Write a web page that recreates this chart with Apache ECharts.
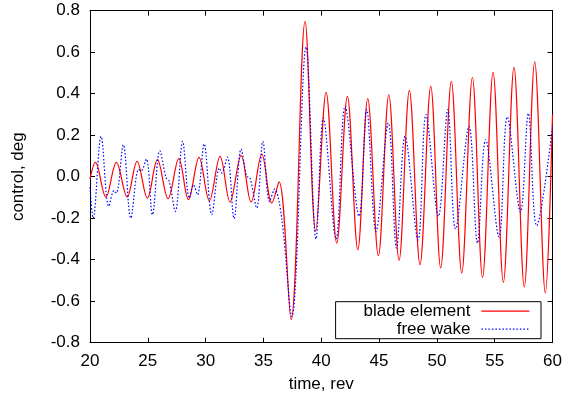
<!DOCTYPE html>
<html>
<head>
<meta charset="utf-8">
<script src="https://cdn.jsdelivr.net/npm/echarts@6/dist/echarts.min.js"></script>
<style>
html,body{margin:0;padding:0;background:#fff;}
#chart{width:569px;height:402px;}
</style>
</head>
<body>
<div id="chart"></div>
<script>
// ---- data ----
const seriesNames = ['blade element', 'free wake'];

// blade element (red): extrema of the response, time in rev, control in deg
const redTime = [20.0, 20.47, 21.37, 22.28, 23.21, 24.07, 24.96, 25.83, 26.75, 27.68,
  28.51, 29.43, 30.32, 31.25, 32.11, 33.07, 33.93, 34.86, 35.72, 36.35,
  37.39, 38.60, 39.52, 40.42, 41.34, 42.26, 43.16, 44.02, 44.94, 45.84,
  46.73, 47.62, 48.54, 49.47, 50.33, 51.25, 52.15, 53.07, 53.95, 54.86,
  55.75, 56.67, 57.56, 58.46, 59.38, 60.0];
const redValue = [-0.01, 0.069, -0.098, 0.069, -0.098, 0.074, -0.103, 0.082, -0.106, 0.087,
  -0.111, 0.093, -0.116, 0.098, -0.122, 0.103, -0.122, 0.109, -0.127, -0.025,
  -0.689, 0.749, -0.263, 0.406, -0.32, 0.387, -0.352, 0.376, -0.381, 0.395,
  -0.403, 0.416, -0.424, 0.435, -0.44, 0.459, -0.464, 0.478, -0.485, 0.503,
  -0.509, 0.527, -0.531, 0.554, -0.56, 0.30];

// free wake (blue, dotted)
const blueTime = [20.0, 20.27, 20.96, 21.63, 22.08, 22.28, 22.88, 23.53, 24.20, 24.42,
  24.87, 25.40, 26.04, 26.58, 26.84, 27.38, 28.01, 28.59, 28.94, 29.29,
  29.87, 30.53, 31.19, 31.40, 31.88, 32.46, 33.07, 33.56, 33.84, 34.42,
  34.95, 35.53, 35.96, 36.58, 37.45, 38.69, 39.55, 40.18, 41.28, 42.06,
  43.27, 43.93, 44.74, 45.80, 46.51, 47.25, 48.37, 49.06, 50.13, 50.94,
  51.61, 52.78, 53.51, 54.22, 55.37, 56.09, 57.23, 57.91, 58.63, 60.0];
const blueValue = [-0.05, -0.20, 0.194, -0.143, -0.067, -0.079, 0.154, -0.20, 0.035, 0.028,
  0.085, -0.183, 0.125, -0.005, -0.02, -0.167, 0.17, -0.103, -0.039, -0.087,
  0.158, -0.183, 0.042, 0.018, 0.095, -0.202, 0.133, 0.002, -0.006, -0.151,
  0.17, -0.12, -0.06, -0.20, -0.675, 0.625, -0.30, 0.282, -0.30, 0.339,
  -0.19, 0.323, -0.263, 0.259, -0.344, 0.194, -0.304, 0.299, -0.191, 0.323,
  -0.252, 0.242, -0.32, 0.178, -0.29, 0.288, -0.17, 0.305, -0.236, 0.24];

// axis ticks
const xTicks = [20, 25, 30, 35, 40, 45, 50, 55, 60];
const yTicks = [-0.8, -0.6, -0.4, -0.2, 0.0, 0.2, 0.4, 0.6, 0.8];
const xTitle = 'time, rev';
const yTitle = 'control, deg';

// ---- chart ----
const FONT = "'Liberation Sans', Arial, Helvetica, sans-serif";
const chart = echarts.init(document.getElementById('chart'), null, {renderer: 'canvas'});

const axisLineStyle = {color: '#000', width: 1};
const xStep = xTicks[1] - xTicks[0];
const yStep = Math.round((yTicks[1] - yTicks[0]) * 10) / 10;

function xAxisCfg(pos, showLabel) {
  return {
    type: 'value', position: pos,
    min: xTicks[0], max: xTicks[xTicks.length - 1], interval: xStep,
    name: showLabel ? xTitle : '', nameLocation: 'middle', nameGap: 33,
    nameTextStyle: {fontFamily: FONT, fontSize: 17, color: '#000'},
    axisLine: {show: true, onZero: false, lineStyle: axisLineStyle},
    axisTick: {show: true, inside: true, length: 5, lineStyle: axisLineStyle},
    axisLabel: {show: showLabel, margin: 10, fontFamily: FONT, fontSize: 17, color: '#000',
      showMinLabel: true, showMaxLabel: true},
    splitLine: {show: false}
  };
}
function yAxisCfg(pos, showLabel) {
  return {
    type: 'value', position: pos,
    min: yTicks[0], max: yTicks[yTicks.length - 1], interval: yStep,
    name: showLabel ? yTitle : '', nameLocation: 'middle', nameGap: 63, nameRotate: 90,
    nameTextStyle: {fontFamily: FONT, fontSize: 17, color: '#000'},
    axisLine: {show: true, onZero: false, lineStyle: axisLineStyle},
    axisTick: {show: true, inside: true, length: 5, lineStyle: axisLineStyle},
    axisLabel: {show: showLabel, margin: 10, fontFamily: FONT, fontSize: 17, color: '#000',
      showMinLabel: true, showMaxLabel: true,
      formatter: v => (Math.abs(v) < 1e-9 ? 0 : v).toFixed(1)},
    splitLine: {show: false}
  };
}

const option = {
  animation: false,
  backgroundColor: '#fff',
  grid: {left: 90, right: 16.5, top: 10.7, bottom: 59.3, containLabel: false},
  xAxis: [xAxisCfg('bottom', true), xAxisCfg('top', false)],
  yAxis: [yAxisCfg('left', true), yAxisCfg('right', false)],
  legend: {
    orient: 'vertical', right: 28, top: 301.7, align: 'right',
    itemWidth: 48, itemHeight: 12, itemGap: 1,
    padding: [1, 11, 1, 28],
    borderColor: '#000', borderWidth: 1, borderRadius: 0, backgroundColor: '#fff',
    itemStyle: {opacity: 0},
    lineStyle: {width: 1.2},
    textStyle: {fontFamily: FONT, fontSize: 17, color: '#000', padding: [0, 6, 0, 0]},
    data: seriesNames
  },
  series: [
    {
      name: seriesNames[0], type: 'line', xAxisIndex: 0, yAxisIndex: 0,
      data: redTime.map((t, i) => [t, redValue[i]]),
      smooth: 0.36, symbol: 'none', clip: true,
      lineStyle: {color: '#ff0000', width: 1.2, type: 'solid'},
      itemStyle: {color: '#ff0000'}
    },
    {
      name: seriesNames[1], type: 'line', xAxisIndex: 0, yAxisIndex: 0,
      data: blueTime.map((t, i) => [t, blueValue[i]]),
      smooth: 0.36, symbol: 'none', clip: true,
      lineStyle: {color: '#0000ff', width: 1.2, type: [1.5, 2]},
      itemStyle: {color: '#0000ff'}
    }
  ]
};
chart.setOption(option);
</script>
</body>
</html>
